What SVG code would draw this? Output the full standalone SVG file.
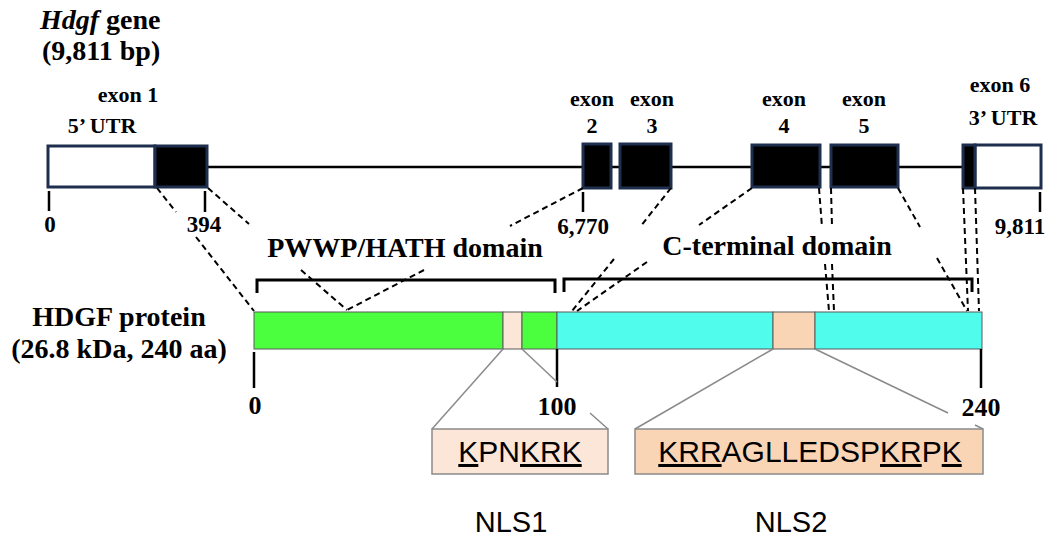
<svg xmlns="http://www.w3.org/2000/svg" width="1049" height="539" viewBox="0 0 1049 539">
  <defs>
    <style>
      .serif { font-family: "Liberation Serif", "Times New Roman", serif; font-weight: bold; fill: #000; }
      .sans { font-family: "Liberation Sans", Arial, sans-serif; fill: #000; }
      .title { font-size: 28px; }
      .lab { font-size: 22px; }
      .tlab { font-size: 23px; }
      .dom { font-size: 28px; }
      .num { font-size: 26px; }
      .seq { font-size: 30px; }
      .nls { font-size: 29px; }
      .u { text-decoration: underline; }
      .utr { fill: #fff; stroke: #1e2e4e; stroke-width: 3; }
      .exon { fill: #000; stroke: #1e2e4e; stroke-width: 3; }
      .intron { stroke: #000; stroke-width: 2.5; fill: none; }
      .tick { stroke: #000; stroke-width: 2.5; fill: none; }
      .bracket { stroke: #000; stroke-width: 3; fill: none; }
      .dash { stroke: #000; stroke-width: 2; stroke-dasharray: 6 4; fill: none; }
      .zoomline { stroke: #8a8a8a; stroke-width: 1.5; fill: none; }
      .seg { stroke: #5a5a5a; stroke-width: 1; }
      .nlsbox { stroke: #8a8a8a; stroke-width: 1.5; }
    </style>
  </defs>

  <rect width="1049" height="539" fill="#fff"/>

  <!-- gene title -->
  <g id="gene-title">
    <text class="serif title" x="40" y="29"><tspan font-style="italic">Hdgf</tspan> gene</text>
    <text class="serif title" x="42" y="60">(9,811 bp)</text>
  </g>

  <!-- intron backbone -->
  <g id="intron">
    <line class="intron" x1="208" y1="167" x2="962" y2="167"/>
  </g>

  <!-- exons -->
  <g id="exon1">
    <rect class="utr" x="48" y="146" width="107" height="41"/>
    <rect class="exon" x="155" y="146" width="52" height="41"/>
    <text class="serif lab" x="128" y="102" text-anchor="middle">exon 1</text>
    <text class="serif lab" x="102" y="133" text-anchor="middle">5’ UTR</text>
  </g>
  <g id="exon2">
    <rect class="exon" x="583" y="144" width="28" height="44"/>
    <text class="serif lab" x="592" y="106" text-anchor="middle">exon</text>
    <text class="serif lab" x="592" y="133" text-anchor="middle">2</text>
  </g>
  <g id="exon3">
    <rect class="exon" x="620" y="144" width="51" height="44"/>
    <text class="serif lab" x="652" y="106" text-anchor="middle">exon</text>
    <text class="serif lab" x="652" y="133" text-anchor="middle">3</text>
  </g>
  <g id="exon4">
    <rect class="exon" x="752" y="145" width="68" height="42"/>
    <text class="serif lab" x="784" y="106" text-anchor="middle">exon</text>
    <text class="serif lab" x="784" y="133" text-anchor="middle">4</text>
  </g>
  <g id="exon5">
    <rect class="exon" x="831" y="145" width="67" height="42"/>
    <text class="serif lab" x="864" y="106" text-anchor="middle">exon</text>
    <text class="serif lab" x="864" y="133" text-anchor="middle">5</text>
  </g>
  <g id="exon6">
    <rect class="utr" x="975" y="145" width="66" height="43"/>
    <rect class="exon" x="963" y="145" width="12" height="43"/>
    <text class="serif lab" x="1000" y="92" text-anchor="middle">exon 6</text>
    <text class="serif lab" x="1003" y="125" text-anchor="middle">3’ UTR</text>
  </g>

  <!-- gene coordinate ticks -->
  <g id="gene-ticks">
    <line class="tick" x1="49" y1="191" x2="49" y2="211"/>
    <line class="tick" x1="205" y1="191" x2="205" y2="212"/>
    <line class="tick" x1="583" y1="192" x2="583" y2="212"/>
    <line class="tick" x1="1040" y1="192" x2="1040" y2="212"/>
    <text class="serif tlab" x="50" y="232" text-anchor="middle">0</text>
    <text class="serif tlab" x="204" y="232" text-anchor="middle">394</text>
    <text class="serif tlab" x="583" y="234" text-anchor="middle">6,770</text>
    <text class="serif tlab" x="1020" y="234" text-anchor="middle">9,811</text>
  </g>

  <!-- domain brackets -->
  <g id="pwwp-domain">
    <path class="bracket" d="M257,293 V280 H555 V293"/>
    <text class="serif dom" x="405" y="257" text-anchor="middle">PWWP/HATH domain</text>
  </g>
  <g id="cterminal-domain">
    <path class="bracket" d="M564,292 V279 H972 V292"/>
    <text class="serif dom" x="777" y="255" text-anchor="middle">C-terminal domain</text>
  </g>

  <!-- protein bar -->
  <g id="protein">
    <rect class="seg" x="254" y="312" width="249" height="37" fill="#4bff3f"/>
    <rect class="seg" x="503" y="312" width="19" height="37" fill="#fce6d8"/>
    <rect class="seg" x="522" y="312" width="35" height="37" fill="#4bff3f"/>
    <rect class="seg" x="557" y="312" width="216" height="37" fill="#50fcec"/>
    <rect class="seg" x="773" y="312" width="42" height="37" fill="#fad5b5"/>
    <rect class="seg" x="815" y="312" width="167" height="37" fill="#50fcec"/>
    <text class="serif dom" x="119" y="326" text-anchor="middle">HDGF protein</text>
    <text class="serif dom" x="119" y="358" text-anchor="middle">(26.8 kDa, 240 aa)</text>
  </g>

  <!-- protein residue ticks -->
  <g id="protein-ticks">
    <line class="tick" x1="254" y1="352" x2="254" y2="388"/>
    <line class="tick" x1="557" y1="349" x2="557" y2="387"/>
    <line class="tick" x1="981" y1="349" x2="981" y2="388"/>
    <text class="serif num" x="255" y="414" text-anchor="middle">0</text>
    <text class="serif num" x="557" y="415" text-anchor="middle">100</text>
    <text class="serif num" x="981" y="416" text-anchor="middle">240</text>
  </g>

  <!-- nuclear localisation signals -->
  <g id="nls1">
    <rect class="nlsbox" x="432" y="429" width="176" height="45" fill="#fce6d8"/>
    <text class="sans seq" x="520" y="462" text-anchor="middle"><tspan class="u">K</tspan>PN<tspan class="u">KRK</tspan></text>
    <text class="sans nls" x="511" y="532" text-anchor="middle">NLS1</text>
  </g>
  <g id="nls2">
    <rect class="nlsbox" x="635" y="429" width="348" height="45" fill="#fad5b5"/>
    <text class="sans seq" x="810" y="462" text-anchor="middle"><tspan class="u">KRR</tspan>AGLLEDSP<tspan class="u">KR</tspan>P<tspan class="u">K</tspan></text>
    <text class="sans nls" x="791" y="532" text-anchor="middle">NLS2</text>
  </g>

  <!-- connectors: exon boundaries to protein, and NLS call-outs -->
  <g id="connectors">
    <!-- exon 1 start -->
    <line class="dash" x1="157" y1="188" x2="176" y2="212"/>
    <line class="dash" x1="196" y1="237" x2="254" y2="311"/>
    <!-- exon 1 end / exon 2 start -->
    <line class="dash" x1="208" y1="188" x2="249" y2="224"/>
    <line class="dash" x1="301" y1="270" x2="347" y2="310"/>
    <line class="dash" x1="583" y1="188" x2="510" y2="226"/>
    <line class="dash" x1="424" y1="270" x2="347" y2="310"/>
    <!-- exon 3 end / exon 4 start -->
    <line class="dash" x1="671" y1="188" x2="640" y2="227"/>
    <line class="dash" x1="614" y1="259" x2="572" y2="311"/>
    <line class="dash" x1="752" y1="188" x2="699" y2="225"/>
    <line class="dash" x1="647" y1="262" x2="577" y2="311"/>
    <!-- exon 4 end / exon 5 start -->
    <line class="dash" x1="819" y1="188" x2="822" y2="227"/>
    <line class="dash" x1="825" y1="264" x2="829" y2="311"/>
    <line class="dash" x1="831" y1="188" x2="832" y2="227"/>
    <line class="dash" x1="832" y1="264" x2="834" y2="311"/>
    <!-- exon 5 end / exon 6 -->
    <line class="dash" x1="898" y1="188" x2="920" y2="227"/>
    <line class="dash" x1="937" y1="258" x2="967" y2="311"/>
    <line class="dash" x1="963" y1="188" x2="968" y2="311"/>
    <line class="dash" x1="975" y1="188" x2="979" y2="311"/>
    <!-- NLS call-outs -->
    <line class="zoomline" x1="503" y1="349" x2="432" y2="429"/>
    <line class="zoomline" x1="522" y1="349" x2="557" y2="382"/>
    <line class="zoomline" x1="590" y1="413" x2="608" y2="429"/>
    <line class="zoomline" x1="773" y1="349" x2="635" y2="429"/>
    <line class="zoomline" x1="815" y1="349" x2="948" y2="413"/>
    <line class="zoomline" x1="975" y1="425" x2="983" y2="429"/>
  </g>
</svg>
